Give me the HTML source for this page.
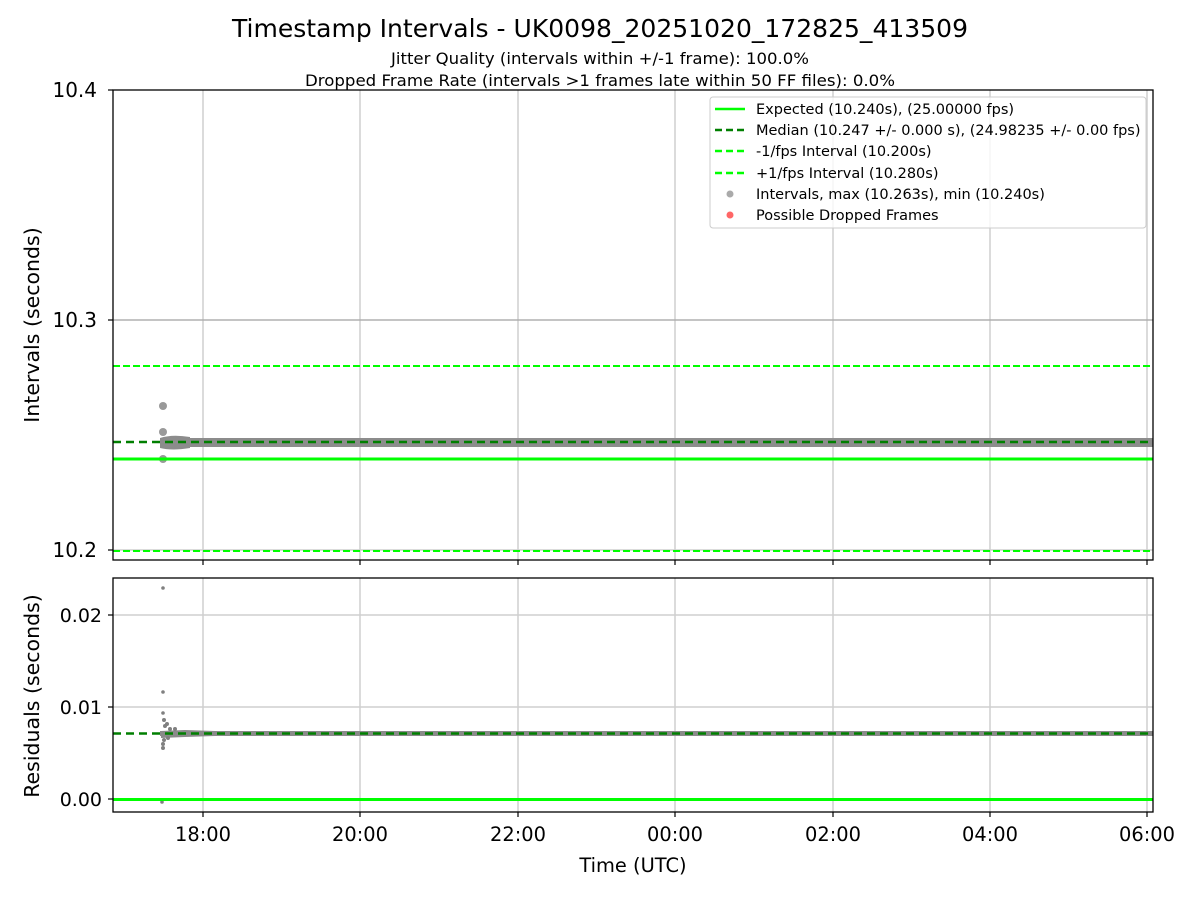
<!DOCTYPE html>
<html><head><style>body{margin:0;background:#fff}svg{display:block}text{font-family:"DejaVu Sans","Liberation Sans",sans-serif}</style></head><body>
<svg width="1200" height="900" xmlns="http://www.w3.org/2000/svg">
<rect width="1200" height="900" fill="#fff"/>
<text x="600" y="37" font-size="25" text-anchor="middle" textLength="736" lengthAdjust="spacingAndGlyphs">Timestamp Intervals - UK0098_20251020_172825_413509</text>
<text x="600" y="64" font-size="16" text-anchor="middle" textLength="418" lengthAdjust="spacingAndGlyphs">Jitter Quality (intervals within +/-1 frame): 100.0%</text>
<text x="600" y="86" font-size="16" text-anchor="middle" textLength="590" lengthAdjust="spacingAndGlyphs">Dropped Frame Rate (intervals &gt;1 frames late within 50 FF files): 0.0%</text>
<g stroke="#cfcfcf" stroke-width="1.5">
<line x1="203" y1="90" x2="203" y2="560"/><line x1="360" y1="90" x2="360" y2="560"/><line x1="518" y1="90" x2="518" y2="560"/><line x1="675" y1="90" x2="675" y2="560"/><line x1="833" y1="90" x2="833" y2="560"/><line x1="990" y1="90" x2="990" y2="560"/><line x1="1147" y1="90" x2="1147" y2="560"/>
<line x1="113" y1="320" x2="1153" y2="320" stroke="#b0b0b0"/><line x1="113" y1="550" x2="1153" y2="550"/>
<line x1="203" y1="578" x2="203" y2="812"/><line x1="360" y1="578" x2="360" y2="812"/><line x1="518" y1="578" x2="518" y2="812"/><line x1="675" y1="578" x2="675" y2="812"/><line x1="833" y1="578" x2="833" y2="812"/><line x1="990" y1="578" x2="990" y2="812"/><line x1="1147" y1="578" x2="1147" y2="812"/>
<line x1="113" y1="615" x2="1153" y2="615"/><line x1="113" y1="707" x2="1153" y2="707"/>
</g>
<line x1="113" y1="366" x2="1153" y2="366" stroke="#00ff00" stroke-width="2" stroke-dasharray="7,3"/>
<line x1="113" y1="551" x2="1153" y2="551" stroke="#00ff00" stroke-width="2" stroke-dasharray="7,3"/>
<rect x="160" y="438" width="993" height="9" fill="#8c8c8c"/>
<path d="M160 438 Q172 434 190 437 L190 448 Q172 451 160 448Z" fill="#8c8c8c"/>
<g fill="#999"><circle cx="163" cy="406" r="4"/><circle cx="163" cy="432" r="4"/><circle cx="163" cy="459" r="4"/></g>
<line x1="113" y1="442" x2="1153" y2="442" stroke="#007f00" stroke-width="2.5" stroke-dasharray="8,5"/>
<line x1="113" y1="459" x2="1153" y2="459" stroke="#00ff00" stroke-width="3"/>
<rect x="160" y="731" width="993" height="5" fill="#8a8a8a"/>
<path d="M161 731 L185 730 L215 731 L215 736 L185 737 L161 738Z" fill="#8a8a8a"/>
<g fill="#808080"><circle cx="163" cy="588" r="1.8"/><circle cx="163" cy="692" r="1.8"/><circle cx="163" cy="713" r="1.8"/><circle cx="164" cy="720" r="2"/><circle cx="165" cy="726" r="2"/><circle cx="167" cy="724" r="2"/><circle cx="164" cy="740" r="2"/><circle cx="163" cy="744" r="2"/><circle cx="163" cy="748" r="2"/><circle cx="162" cy="802" r="1.8"/><circle cx="170" cy="729" r="2"/><circle cx="175" cy="729" r="2"/><circle cx="168" cy="738" r="2"/></g>
<line x1="113" y1="733.5" x2="1153" y2="733.5" stroke="#007f00" stroke-width="2.5" stroke-dasharray="8,5"/>
<line x1="113" y1="799.5" x2="1153" y2="799.5" stroke="#00ff00" stroke-width="3"/>
<rect x="113" y="90" width="1040" height="470" fill="none" stroke="#000" stroke-width="1.3"/>
<rect x="113" y="578" width="1040" height="234" fill="none" stroke="#000" stroke-width="1.3"/>
<g stroke="#000" stroke-width="1.2">
<line x1="108" y1="90" x2="113" y2="90"/><line x1="108" y1="320" x2="113" y2="320"/><line x1="108" y1="550" x2="113" y2="550"/>
<line x1="108" y1="615" x2="113" y2="615"/><line x1="108" y1="707" x2="113" y2="707"/><line x1="108" y1="799" x2="113" y2="799"/>
<line x1="203" y1="560" x2="203" y2="565"/><line x1="360" y1="560" x2="360" y2="565"/><line x1="518" y1="560" x2="518" y2="565"/><line x1="675" y1="560" x2="675" y2="565"/><line x1="833" y1="560" x2="833" y2="565"/><line x1="990" y1="560" x2="990" y2="565"/><line x1="1147" y1="560" x2="1147" y2="565"/>
<line x1="203" y1="812" x2="203" y2="817"/><line x1="360" y1="812" x2="360" y2="817"/><line x1="518" y1="812" x2="518" y2="817"/><line x1="675" y1="812" x2="675" y2="817"/><line x1="833" y1="812" x2="833" y2="817"/><line x1="990" y1="812" x2="990" y2="817"/><line x1="1147" y1="812" x2="1147" y2="817"/>
</g>
<g font-size="20" text-anchor="end">
<text x="97" y="97">10.4</text><text x="97" y="327">10.3</text><text x="97" y="557">10.2</text>
</g>
<g font-size="19" text-anchor="end">
<text x="102" y="622">0.02</text><text x="102" y="714">0.01</text><text x="102" y="806">0.00</text>
</g>
<g font-size="19.4" text-anchor="middle">
<text x="203" y="841">18:00</text><text x="360" y="841">20:00</text><text x="518" y="841">22:00</text><text x="675" y="841">00:00</text><text x="833" y="841">02:00</text><text x="990" y="841">04:00</text><text x="1147" y="841">06:00</text>
<text x="633" y="872">Time (UTC)</text>
</g>
<text transform="translate(39,325) rotate(-90)" font-size="20.5" text-anchor="middle">Intervals (seconds)</text>
<text transform="translate(39,696) rotate(-90)" font-size="20.5" text-anchor="middle">Residuals (seconds)</text>
<rect x="710" y="97" width="436" height="131" rx="3" fill="#fff" fill-opacity="0.8" stroke="#ccc"/>
<line x1="715" y1="109" x2="745" y2="109" stroke="#00ff00" stroke-width="2.5"/>
<line x1="715" y1="130" x2="745" y2="130" stroke="#007f00" stroke-width="2.5" stroke-dasharray="7,4"/>
<line x1="715" y1="151" x2="745" y2="151" stroke="#00ff00" stroke-width="2.5" stroke-dasharray="7,4"/>
<line x1="715" y1="173" x2="745" y2="173" stroke="#00ff00" stroke-width="2.5" stroke-dasharray="7,4"/>
<circle cx="730" cy="194" r="3.5" fill="#aaa"/>
<circle cx="730" cy="215" r="3.5" fill="#ff6666"/>
<g font-size="14.5">
<text x="756" y="114">Expected (10.240s), (25.00000 fps)</text>
<text x="756" y="135">Median (10.247 +/- 0.000 s), (24.98235 +/- 0.00 fps)</text>
<text x="756" y="156">-1/fps Interval (10.200s)</text>
<text x="756" y="178">+1/fps Interval (10.280s)</text>
<text x="756" y="199">Intervals, max (10.263s), min (10.240s)</text>
<text x="756" y="220">Possible Dropped Frames</text>
</g>
</svg>
</body></html>
